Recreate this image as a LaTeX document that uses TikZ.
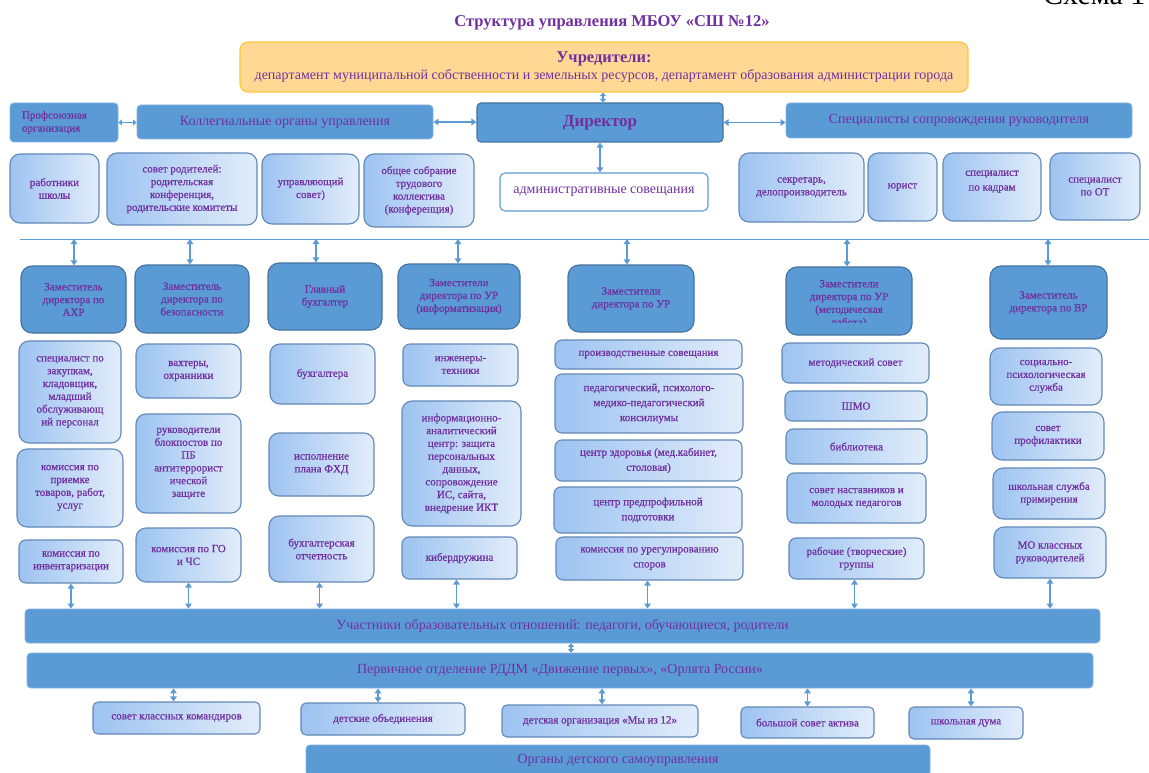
\documentclass[tikz,border=0pt]{standalone}
\usepackage{fontspec}
\setmainfont{Liberation Serif}
\newfontfamily\semib{Liberation Serif}[FakeBold=0.7]
\usetikzlibrary{arrows.meta}
\definecolor{txt}{HTML}{7030A0}
\definecolor{dk}{HTML}{5B9BD5}
\definecolor{dkb}{HTML}{44739F}
\definecolor{lb}{HTML}{7FB1E0}
\definecolor{gL}{HTML}{9DC3F1}
\definecolor{gR}{HTML}{E2EDFA}
\definecolor{gB}{HTML}{6289B6}
\definecolor{ufill}{HTML}{FFD993}
\definecolor{ubord}{HTML}{FFC739}
\definecolor{ac}{HTML}{5B9BD5}
\newcommand\mkbox[7]{%
  \pgfmathsetmacro\bxcx{(#3+#5)/2}%
  \pgfmathsetmacro\bxcy{(#4+#6)/2}%
  \pgfmathsetmacro\bxw{#5-#3}%
  \pgfmathsetmacro\bxh{#6-#4}%
  \node[#1, minimum width=\bxw pt, minimum height=\bxh pt] (#2) at (\bxcx,\bxcy) {#7};}
\begin{document}
\begin{tikzpicture}[x=1pt,y=-1pt,
  base/.style={align=center, text=txt, inner sep=1pt, font=\semib\fontsize{11}{12.8}\selectfont},
  gbox/.style={base, left color=gL, right color=gR, draw=gB, line width=1.1pt, rounded corners=10pt},
  gmid/.style={gbox, rounded corners=7pt},
  gsm/.style={gbox, rounded corners=5pt},
  col5/.style={gmid, font=\semib\fontsize{11}{15}\selectfont},
  dep/.style={base, fill=dk, draw=dkb, line width=1.1pt, rounded corners=11pt},
  hdr/.style={base, fill=dk, draw=lb, line width=0.8pt, rounded corners=4pt, font=\rmfamily\fontsize{14}{16}\selectfont},
  band/.style={hdr},
  dirs/.style={base, fill=dk, draw=dkb, line width=1.1pt, rounded corners=4pt, font=\rmfamily\fontsize{17}{19}\selectfont\bfseries},
  adms/.style={base, fill=white, draw=ac, line width=1.1pt, rounded corners=5pt, font=\rmfamily\fontsize{14}{16}\selectfont},
  ubox/.style={base, fill=ufill, draw=ubord, line width=1.2pt, rounded corners=8pt, font=\rmfamily\fontsize{14}{17}\selectfont},
  conn/.style={draw=ac, line width=1.3pt, <->, >={Triangle[width=6.5pt,length=5pt]}},
  conns/.style={draw=ac, line width=1.3pt, <->, >={Triangle[width=6pt,length=3.5pt]}},
  hline/.style={draw=ac, line width=1pt}
]
\useasboundingbox (0,0) rectangle (1149,773);
\clip (0,0) rectangle (1149,773);
\fill[white] (0,0) rectangle (1149,773);

% titles
\node[font=\fontsize{16.5}{18}\selectfont\bfseries, text=txt, inner sep=0] (title) at (612,23) {Структура управления МБОУ «СШ №12»};
\node[anchor=base west, inner sep=0, font=\fontsize{30}{30}\selectfont] (schema) at (1043,4.5) {Схема 1};

% founders
\mkbox{ubox}{uchr}{240}{42}{968}{92}{{\fontsize{16.5}{18}\selectfont\bfseries Учредители:}\\департамент муниципальной собственности и земельных ресурсов, департамент образования администрации города}

% row 2
\mkbox{hdr,font=\semib\fontsize{11}{13}\selectfont,text width=84pt,align=left}{prof}{10}{103}{118}{142}{Профсоюзная\\организация}
\mkbox{hdr}{koll}{137}{105}{433}{139}{Коллегиальные органы управления}
\mkbox{dirs}{dir}{477}{103}{723}{142}{Директор}
\mkbox{hdr}{spec}{786}{103}{1132}{138}{Специалисты сопровождения руководителя}
\mkbox{adms}{adm}{500}{173}{708}{211}{административные совещания}

% row 3
\mkbox{gbox}{rab}{10}{154}{99}{223}{работники\\школы}
\mkbox{gbox}{sovrod}{107}{153}{257}{225}{совет родителей:\\родительская\\конференция,\\родительские комитеты}
\mkbox{gbox}{upr}{262}{154}{359}{224}{управляющий\\совет)}
\mkbox{gbox}{obsh}{364}{154}{474}{227}{общее собрание\\трудового\\коллектива\\(конференция)}
\mkbox{gbox}{sekr}{739}{153}{864}{222}{секретарь,\\делопроизводитель}
\mkbox{gbox}{yur}{868}{153}{937}{221}{юрист}
\mkbox{gbox}{kadr}{943}{153}{1041}{221}{специалист\\[2pt]по кадрам\\~}
\mkbox{gbox}{ot}{1050}{153}{1140}{220}{специалист\\по ОТ}

% separator line
\coordinate (hlL) at (20,239);
\coordinate (hlR) at (1149,239);
\draw[hline] (hlL) -- (hlR);

% deputies
\mkbox{dep}{dahr}{21}{266}{126}{333}{Заместитель\\директора по\\АХР}
\mkbox{dep}{dbez}{135}{265}{249}{333}{Заместитель\\директора по\\безопасности}
\mkbox{dep}{dgb}{268}{263}{382}{330}{Главный\\бухгалтер}
\mkbox{dep}{dinf}{398}{264}{520}{329}{Заместители\\директора по УР\\(информатизация)}
\mkbox{dep}{dur}{568}{265}{694}{332}{Заместители\\директора по УР}
\mkbox{dep}{dmet}{786}{267}{912}{335}{}
\begin{scope}
\clip (786,267) rectangle (912,322);
\node[base] (dmett) at (849,304) {Заместители\\директора по УР\\(методическая\\работа)};
\end{scope}
\mkbox{dep}{dvr}{990}{266}{1107}{339}{Заместитель\\директора по ВР}

% column 1
\mkbox{gbox}{c1a}{19}{341}{121}{443}{специалист по\\закупкам,\\кладовщик,\\младший\\обслуживающ\\ий персонал}
\mkbox{gbox}{c1b}{17}{449}{123}{527}{комиссия по\\приемке\\товаров, работ,\\услуг}
\mkbox{gmid}{c1c}{19}{540}{123}{583}{комиссия по\\инвентаризации}
% column 2
\mkbox{gbox}{c2a}{136}{344}{241}{398}{вахтеры,\\охранники}
\mkbox{gbox}{c2b}{136}{414}{241}{513}{руководители\\блокпостов по\\ПБ\\антитеррорист\\ической\\защите}
\mkbox{gbox}{c2c}{136}{528}{241}{582}{комиссия по ГО\\и ЧС}
% column 3
\mkbox{gbox}{c3a}{270}{344}{375}{404}{бухгалтера}
\mkbox{gbox}{c3b}{269}{433}{374}{496}{исполнение\\плана ФХД}
\mkbox{gbox}{c3c}{269}{516}{374}{582}{бухгалтерская\\отчетность}
% column 4
\mkbox{gmid}{c4a}{403}{344}{518}{386}{инженеры-\\техники}
\mkbox{gbox}{c4b}{402}{401}{521}{526}{информационно-\\аналитический\\центр: защита\\персональных\\данных,\\сопровождение\\ИС, сайта,\\внедрение ИКТ}
\mkbox{gmid}{c4c}{402}{537}{517}{579}{кибердружина}
% column 5
\mkbox{col5}{c5a}{555}{340}{742}{369}{производственные совещания}
\mkbox{col5}{c5b}{555}{374}{743}{433}{педагогический, психолого-\\медико-педагогический\\консилиумы}
\mkbox{col5}{c5c}{555}{440}{742}{481}{центр здоровья (мед.кабинет,\\столовая)}
\mkbox{col5}{c5d}{554}{487}{742}{533}{центр предпрофильной\\подготовки}
\mkbox{col5}{c5e}{556}{537}{743}{580}{комиссия по урегулированию\\споров}
% column 6
\mkbox{gmid}{c6a}{782}{343}{929}{383}{методический совет}
\mkbox{gmid}{c6b}{785}{391}{927}{421}{ШМО}
\mkbox{gmid}{c6c}{786}{429}{927}{464}{библиотека}
\mkbox{gmid}{c6d}{787}{473}{926}{523}{совет наставников и\\молодых педагогов}
\mkbox{gmid}{c6e}{789}{538}{924}{579}{рабочие (творческие)\\группы}
% column 7
\mkbox{gbox}{c7a}{990}{348}{1102}{405}{социально-\\психологическая\\служба}
\mkbox{gbox}{c7b}{992}{412}{1104}{460}{совет\\профилактики}
\mkbox{gbox}{c7c}{993}{468}{1105}{519}{школьная служба\\примирения}
\mkbox{gbox}{c7d}{994}{527}{1106}{578}{МО классных\\руководителей}

% bands
\mkbox{band}{uch}{25}{609}{1100}{643}{Участники образовательных отношений: педагоги, обучающиеся, родители}
\mkbox{band}{perv}{27}{653}{1093}{688}{Первичное отделение РДДМ «Движение первых», «Орлята России»}
\mkbox{band}{org}{306}{745}{930}{776}{Органы детского самоуправления}

% bottom boxes
\mkbox{gsm}{b1}{93}{702}{260}{734}{совет классных командиров}
\mkbox{gsm}{b2}{301}{703}{465}{735}{детские объединения}
\mkbox{gsm}{b3}{502}{705}{698}{737}{детская организация «Мы из 12»}
\mkbox{gsm}{b4}{741}{707}{874}{738}{большой совет актива}
\mkbox{gsm}{b5}{909}{707}{1023}{739}{школьная дума}

% connectors top
\draw[conns] ([xshift=3pt]dir.north) -- ([xshift=3pt]dir.north |- uchr.south);
\draw[conns] (prof.east) -- (prof.east -| koll.west);
\draw[conn] (koll.east) -- (koll.east -| dir.west);
\draw[conn] (dir.east) -- (dir.east -| spec.west);
\draw[conn] (dir.south) -- (dir.south |- adm.north);

% from line to deputies
\coordinate (t1) at (74,239);
\coordinate (t2) at (190,239);
\coordinate (t3) at (316,239);
\coordinate (t4) at (458,239);
\coordinate (t5) at (627,239);
\coordinate (t6) at (847,239);
\coordinate (t7) at (1048,239);
\draw[conn] (t1) -- (t1 |- dahr.north);
\draw[conn] (t2) -- (t2 |- dbez.north);
\draw[conn] (t3) -- (t3 |- dgb.north);
\draw[conn] (t4) -- (t4 |- dinf.north);
\draw[conn] (t5) -- (t5 |- dur.north);
\draw[conn] (t6) -- (t6 |- dmet.north);
\draw[conn] (t7) -- (t7 |- dvr.north);

% columns to participants
\draw[conn] (c1c.south) -- (c1c.south |- uch.north);
\draw[conn] (c2c.south) -- (c2c.south |- uch.north);
\draw[conn] ([xshift=-2pt]c3c.south) -- ([xshift=-2pt]c3c.south |- uch.north);
\draw[conn] ([xshift=-3pt]c4c.south) -- ([xshift=-3pt]c4c.south |- uch.north);
\draw[conn] ([xshift=-2pt]c5e.south) -- ([xshift=-2pt]c5e.south |- uch.north);
\draw[conn] ([xshift=-2pt]c6e.south) -- ([xshift=-2pt]c6e.south |- uch.north);
\draw[conn] (c7d.south) -- (c7d.south |- uch.north);

% participants to RDDM
\draw[conns] ([xshift=8.5pt]uch.south) -- ([xshift=8.5pt]uch.south |- perv.north);

% RDDM to bottom boxes
\draw[conn] ([xshift=-3pt]b1.north) -- ([xshift=-3pt]b1.north |- perv.south);
\draw[conn] ([xshift=-5pt]b2.north) -- ([xshift=-5pt]b2.north |- perv.south);
\draw[conn] ([xshift=2pt]b3.north) -- ([xshift=2pt]b3.north |- perv.south);
\draw[conn] (b4.north) -- (b4.north |- perv.south);
\draw[conn] ([xshift=5pt]b5.north) -- ([xshift=5pt]b5.north |- perv.south);
\end{tikzpicture}
\end{document}
